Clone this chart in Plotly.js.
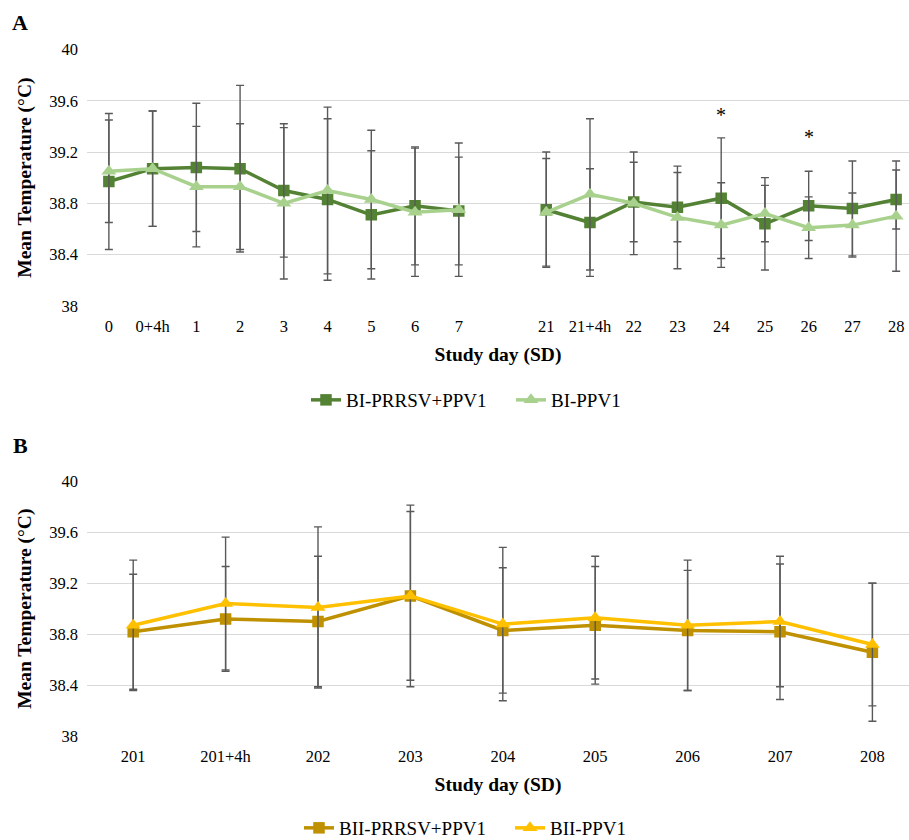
<!DOCTYPE html>
<html>
<head>
<meta charset="utf-8">
<script src="https://cdn.plot.ly/plotly-3.0.1.min.js"></script>
<style>html,body{margin:0;padding:0;background:#fff;}#chart{width:909px;height:840px;}</style>
</head>
<body>
<div id="chart"></div>
<script>
// ---- Panel A data ----
var daysA = ["0","0+4h","1","2","3","4","5","6","7"," ","21","21+4h","22","23","24","25","26","27","28"];
var biPrrsvMean = [38.97,39.07,39.08,39.07,38.90,38.83,38.71,38.78,38.74,null,38.75,38.65,38.81,38.77,38.84,38.64,38.78,38.76,38.83];
var biPrrsvSD   = [0.53,0.45,0.50,0.65,0.52,0.63,0.50,0.46,0.42,null,0.45,0.42,0.31,0.27,0.47,0.36,0.27,0.37,0.23];
var biPpvMean   = [39.05,39.07,38.93,38.93,38.80,38.90,38.83,38.73,38.75,null,38.73,38.87,38.80,38.69,38.63,38.72,38.61,38.63,38.70];
var biPpvSD     = [0.40,0.45,0.47,0.49,0.59,0.65,0.54,0.50,0.52,null,0.42,0.59,0.40,0.40,0.33,0.22,0.24,0.25,0.43];
var sigDaysA = ["24","26"];
var sigLabelY = [39.49,39.32];

// ---- Panel B data ----
var daysB = ["201","201+4h","202","203","204","205","206","207","208"];
var biiPrrsvMean = [38.82,38.92,38.90,39.10,38.83,38.87,38.83,38.82,38.66];
var biiPrrsvSD   = [0.45,0.41,0.51,0.71,0.49,0.46,0.47,0.53,0.54];
var biiPpvMean   = [38.87,39.04,39.01,39.10,38.88,38.93,38.87,38.90,38.72];
var biiPpvSD     = [0.51,0.52,0.63,0.66,0.60,0.48,0.51,0.51,0.48];

var FONT = "Liberation Serif";
var errStyle = function(arr){ return {type:"data", array:arr, visible:true, color:"#595959", thickness:1.4, width:4}; };

var traces = [
  {x:daysA, y:biPrrsvMean, error_y:errStyle(biPrrsvSD), name:"BI-PRRSV+PPV1", type:"scatter", mode:"lines+markers",
   line:{color:"#548235", width:3.5}, marker:{symbol:"square", size:11.5, color:"#548235"}, xaxis:"x", yaxis:"y", legend:"legend"},
  {x:daysA, y:biPpvMean, error_y:errStyle(biPpvSD), name:"BI-PPV1", type:"scatter", mode:"lines+markers",
   line:{color:"#A9D18E", width:3.5}, marker:{symbol:"triangle-up", size:13, color:"#A9D18E"}, xaxis:"x", yaxis:"y", legend:"legend"},
  {x:daysB, y:biiPrrsvMean, error_y:errStyle(biiPrrsvSD), name:"BII-PRRSV+PPV1", type:"scatter", mode:"lines+markers",
   line:{color:"#BF9000", width:3.5}, marker:{symbol:"square", size:11.5, color:"#BF9000"}, xaxis:"x2", yaxis:"y2", legend:"legend2"},
  {x:daysB, y:biiPpvMean, error_y:errStyle(biiPpvSD), name:"BII-PPV1", type:"scatter", mode:"lines+markers",
   line:{color:"#FFC000", width:3.5}, marker:{symbol:"triangle-up", size:13, color:"#FFC000"}, xaxis:"x2", yaxis:"y2", legend:"legend2"}
];

var tickFont = {family:FONT, size:16.5, color:"#000"};
var titleFont = {family:FONT, size:19.5, color:"#000", weight:"bold"};
var yCommon = {range:[37.999,40.001], dtick:0.4, tick0:38, showgrid:true, gridcolor:"#d9d9d9", gridwidth:1,
  zeroline:false, showline:false, ticks:"", tickfont:tickFont, ticklabelstandoff:8, fixedrange:true};
var xCommon = {type:"category", showgrid:false, zeroline:false, showline:false, ticks:"", tickfont:tickFont,
  ticklabelstandoff:8, fixedrange:true};

var annotations = sigDaysA.map(function(d,i){
  return {x:daysA.indexOf(d), y:sigLabelY[i], xref:"x", yref:"y", text:"*", showarrow:false,
    xanchor:"center", yanchor:"middle", font:{family:FONT, size:20, color:"#000"}};
});
annotations.push({x:-0.0815, y:0.9738, xref:"paper", yref:"paper", text:"<b>A</b>", showarrow:false, xanchor:"center", yanchor:"middle", font:{family:FONT, size:22, color:"#000"}});
annotations.push({x:-0.0815, y:0.4702, xref:"paper", yref:"paper", text:"<b>B</b>", showarrow:false, xanchor:"center", yanchor:"middle", font:{family:FONT, size:22, color:"#000"}});

var legendCommon = {orientation:"h", xanchor:"left", yanchor:"middle",
  font:{family:FONT, size:19, color:"#000"}, bgcolor:"rgba(0,0,0,0)"};

var layout = {
  width:909, height:840, margin:{l:87, r:0, t:0, b:0, autoexpand:false}, paper_bgcolor:"#fff", plot_bgcolor:"#fff",
  font:{family:FONT, color:"#000"},
  xaxis: Object.assign({}, xCommon, {domain:[0,1], anchor:"y", categoryorder:"array", categoryarray:daysA, range:[-0.5,18.294],
    title:{text:"Study day (SD)", font:titleFont, standoff:12}}),
  yaxis: Object.assign({}, yCommon, {domain:[0.6357,0.9413], anchor:"x",
    title:{text:"Mean Temperature (°C)", font:titleFont, standoff:12}}),
  xaxis2: Object.assign({}, xCommon, {domain:[0,1], anchor:"y2", categoryorder:"array", categoryarray:daysB, range:[-0.5,8.396],
    title:{text:"Study day (SD)", font:titleFont, standoff:12}}),
  yaxis2: Object.assign({}, yCommon, {domain:[0.1230,0.4277], anchor:"x2",
    title:{text:"Mean Temperature (°C)", font:titleFont, standoff:12}}),
  showlegend:true,
  legend: Object.assign({}, legendCommon, {x:0.2664, y:0.5238, entrywidth:160}),
  legend2: Object.assign({}, legendCommon, {x:0.2579, y:0.0143, entrywidth:166}),
  annotations:annotations
};

Plotly.newPlot("chart", traces, layout, {displayModeBar:false, staticPlot:true});
</script>
</body>
</html>
